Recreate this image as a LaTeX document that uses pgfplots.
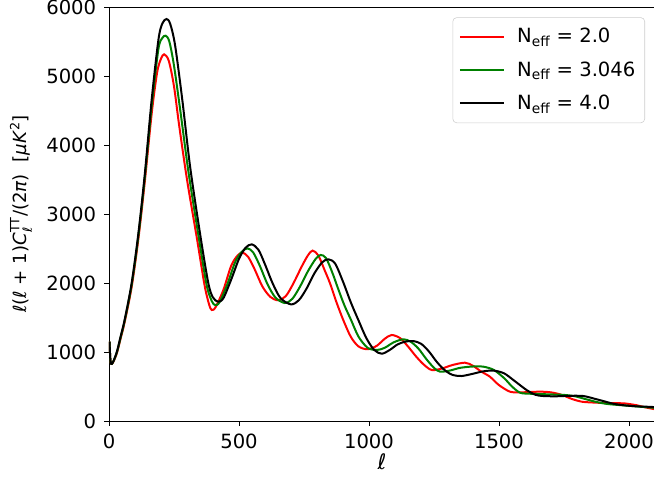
\documentclass[border=0pt]{standalone}
\usepackage{amsmath}
\usepackage{fontspec}
\setmainfont{DejaVu Sans}[ItalicFont={DejaVu Sans Oblique}]
\usepackage{pgfplots}
\pgfplotsset{compat=1.18}
\definecolor{mplgreen}{HTML}{008000}
\begin{document}
\fontsize{14.7pt}{17.6pt}\selectfont
\begin{tikzpicture}
\begin{axis}[name=ax,
  scale only axis, width=409.5pt, height=310.5pt,
  xmin=0, xmax=2100, ymin=0, ymax=6000,
  xtick={0,500,1000,1500,2000}, ytick={0,1000,...,6000},
  /pgf/number format/assume math mode=true,
  /pgf/number format/1000 sep={},
  scaled y ticks=false,
  tick align=outside, tick pos=left,
  major tick length=3.5pt,
  every tick/.style={black, line width=0.6pt},
  axis line style={black, line width=0.6pt},
  xticklabel style={yshift=-1pt},
  yticklabel style={xshift=-1pt},
  xlabel={\fontsize{16pt}{18pt}\selectfont\textit{ℓ}},
  ylabel={\fontsize{13.6pt}{16pt}\selectfont\textit{ℓ}(\textit{ℓ} + 1)\textit{C}$^{\text{TT}}_{\text{\itshape ℓ}}$/(2\textit{π})\ \ [\textit{μK}$^{\text{2}}$]},
  every axis x label/.style={at={(axis description cs:0.5,-0.0983)}, anchor=center},
  every axis y label/.style={at={(axis description cs:-0.161,0.5)}, rotate=90, anchor=center},
  legend cell align=left,
  legend style={at={(0.9817,0.9751)}, anchor=north east, draw=black!20, rounded corners=3pt,
    fill=white, inner xsep=4.5pt, inner ysep=5.5pt, row sep=6.8pt,
    nodes={inner sep=2.5pt},
    /tikz/every odd column/.style={column sep=7pt}},
  legend image code/.code={\draw[#1] (0pt,0pt) -- (32.8pt,0pt);},
  every axis plot/.append style={line width=1.5pt, smooth},
]
\addplot[red] coordinates {
(2,1150) (5,900) (8,830) (15,845) (30,980) (45,1200) (60,1430) (87,1940) (113,2640) (138,3480)
(164,4450) (185,5050) (200,5250) (212,5314) (230,5220) (250,4850) (270,4280) (300,3500) (338,2650)
(368,1960) (385,1690) (395,1609) (410,1650) (440,1900) (470,2250) (495,2400) (514,2439) (535,2380)
(560,2200) (590,1950) (620,1800) (650,1750) (680,1810) (710,2000) (740,2230) (765,2400) (783,2469)
(805,2400) (830,2180) (850,1996) (875,1720) (901,1464) (930,1220) (960,1080) (995,1040) (1030,1090)
(1060,1190) (1087,1246) (1120,1200) (1150,1080) (1180,940) (1210,820) (1241,739) (1280,760)
(1320,810) (1369,845) (1400,800) (1430,720) (1465,642) (1500,520) (1542,425) (1580,415) (1620,420)
(1660,425) (1700,415) (1740,380) (1780,320) (1818,280) (1860,268) (1900,262) (1950,258) (1985,254)
(2030,228) (2060,200) (2100,170)
};
\addlegendentry{N$_{\text{eff}}$ = 2.0}
\addplot[mplgreen] coordinates {
(2,1150) (5,900) (8,830) (15,848) (30,990) (45,1215) (60,1447) (87,1970) (113,2680) (138,3540)
(164,4560) (190,5390) (205,5550) (218,5584) (232,5500) (250,5150) (276,4450) (306,3600) (344,2690)
(375,1980) (395,1740) (408,1681) (425,1720) (455,1980) (485,2300) (510,2450) (533,2502) (555,2440)
(580,2250) (610,1980) (640,1790) (676,1710) (705,1770) (735,1950) (765,2170) (795,2350) (814,2406)
(835,2360) (860,2140) (880,1930) (905,1680) (931,1464) (960,1220) (995,1060) (1030,1029)
(1060,1060) (1095,1140) (1132,1184) (1160,1150) (1190,1050) (1220,900) (1250,770) (1273,715)
(1310,730) (1350,770) (1400,790) (1440,787) (1480,740) (1520,620) (1550,500) (1581,410) (1620,395)
(1660,390) (1700,385) (1750,378) (1790,360) (1830,320) (1870,280) (1910,250) (1950,235) (2000,220)
(2050,205) (2100,190)
};
\addlegendentry{N$_{\text{eff}}$ = 3.046}
\addplot[black] coordinates {
(2,1150) (5,900) (8,830) (15,850) (30,1000) (45,1230) (60,1464) (87,1996) (113,2720) (138,3590)
(164,4652) (190,5522) (205,5760) (221,5826) (235,5760) (254,5450) (282,4652) (312,3686) (350,2720)
(382,1997) (400,1790) (420,1729) (440,1780) (470,2050) (500,2350) (525,2510) (549,2560) (575,2480)
(600,2270) (630,1990) (660,1780) (700,1690) (730,1750) (760,1920) (790,2140) (820,2300) (844,2343)
(870,2280) (900,2020) (930,1720) (959,1464) (990,1200) (1020,1030) (1049,975) (1080,1030)
(1110,1110) (1140,1150) (1170,1159) (1200,1120) (1230,1010) (1260,860) (1290,740) (1320,670)
(1356,652) (1400,685) (1440,720) (1480,730) (1520,690) (1560,580) (1606,449) (1640,380) (1670,362)
(1720,358) (1770,365) (1824,362) (1870,320) (1900,290) (1940,250) (1980,228) (2030,212) (2081,205)
(2100,200)
};
\addlegendentry{N$_{\text{eff}}$ = 4.0}
\end{axis}
\pgfresetboundingbox
\path[use as bounding box] ([xshift=-81.75pt,yshift=-44.25pt]ax.south west) rectangle ([xshift=-0.75pt,yshift=5.25pt]ax.north east);
\end{tikzpicture}
\end{document}
